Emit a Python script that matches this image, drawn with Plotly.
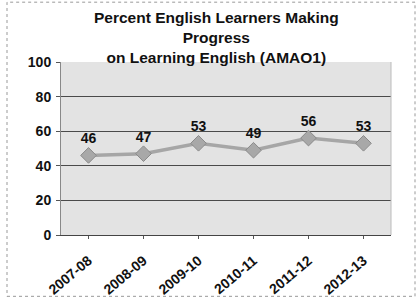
import plotly.graph_objects as go

categories = ["2007-08", "2008-09", "2009-10", "2010-11", "2011-12", "2012-13"]
values = [46, 47, 53, 49, 56, 53]
y_ticks = [0, 20, 40, 60, 80, 100]
title_text = "Percent English Learners Making<br>Progress<br>on Learning English (AMAO1)"

FONT = "Liberation Sans"

fig = go.Figure()
fig.add_trace(go.Scatter(
    x=categories, y=values, mode="lines+markers+text",
    text=[str(v) for v in values], textposition="top center",
    textfont=dict(family=FONT, size=14, color="#111111", weight="bold"),
    line=dict(color="#a6a6a6", width=3.5),
    marker=dict(symbol="diamond", size=12, color="#a8a8a8", line=dict(color="#8a8a8a", width=1)),
    cliponaxis=False, showlegend=False,
))

fig.update_layout(
    width=416, height=300,
    margin=dict(l=61, r=25, t=62, b=65, autoexpand=False),
    paper_bgcolor="white", plot_bgcolor="#e3e3e3",
    xaxis=dict(
        type="category", tickangle=-40, showgrid=False, automargin=False,
        showline=True, linecolor="#444444", linewidth=1,
        ticks="outside", ticklen=3, tickcolor="#555555",
        tickfont=dict(family=FONT, size=14, color="#111111", weight="bold"),
        range=[-0.5, 5.5], ticklabelstandoff=8,
    ),
    yaxis=dict(
        range=[0, 100], tickvals=y_ticks, showgrid=True, gridcolor="#4a4a4a", gridwidth=1,
        showline=True, linecolor="#888888", linewidth=1, automargin=False,
        ticks="outside", ticklen=4, tickcolor="#555555",
        tickfont=dict(family=FONT, size=14, color="#111111", weight="bold"),
        zeroline=False, ticklabelstandoff=2,
    ),
)
fig.add_annotation(
    text=title_text, xref="paper", yref="paper", x=(216-61)/330, y=1,
    xanchor="center", yanchor="bottom", yshift=-6, showarrow=False,
    font=dict(family=FONT, size=15.5, color="#111111", weight="bold"),
)
fig.add_shape(type="line", xref="paper", yref="paper", x0=1, x1=1, y0=0, y1=1,
              line=dict(color="#bbbbbb", width=1))
fig.add_shape(type="rect", xref="paper", yref="paper", x0=-54/330, x1=(415-61)/330,
              y0=-(297-235.5)/173.5, y1=(235.5-2)/173.5,
              line=dict(color="#999999", width=1, dash="dot"), layer="below")

fig.write_html("out.html", config={"displayModeBar": False},
               post_script="document.body.style.margin='0';document.body.style.overflow='hidden';")
